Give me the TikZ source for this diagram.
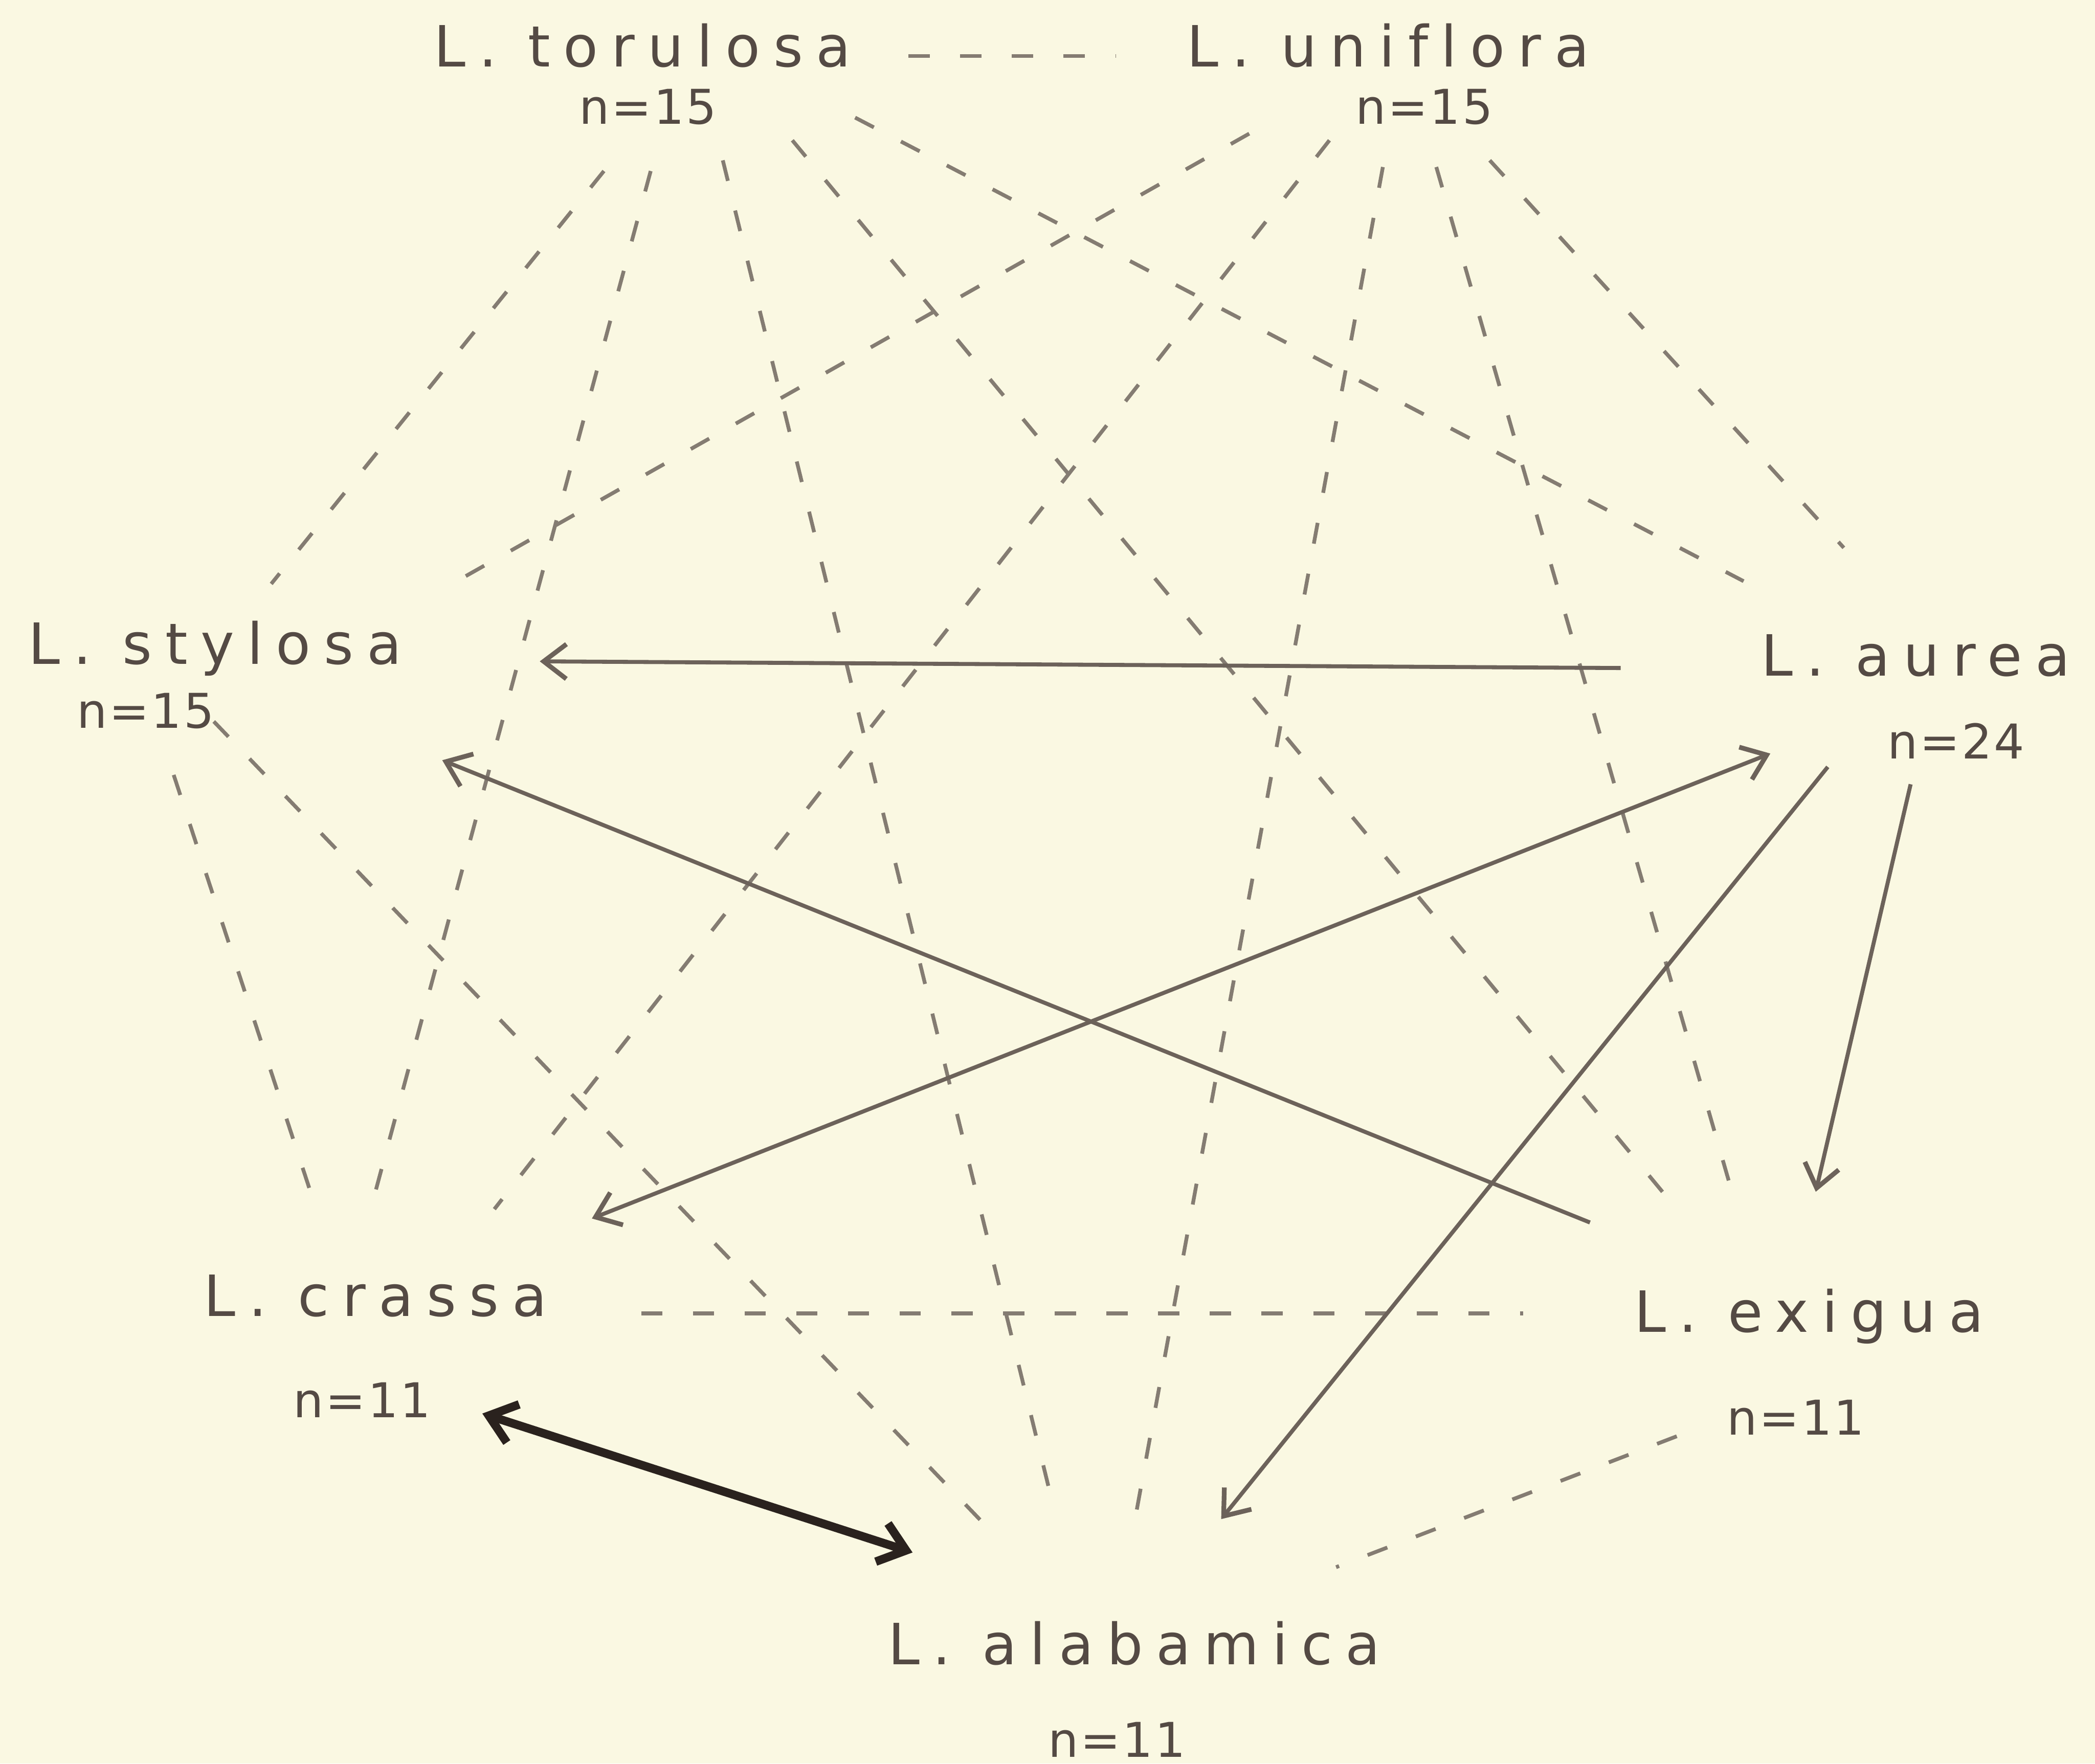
\documentclass[tikz,border=0pt]{standalone}
\usepackage{fontspec}
\usepackage{xcolor}
\usepackage{tikz}
\usetikzlibrary{arrows.meta}
\newfontfamily\namefont[LetterSpace=23, Ligatures=NoCommon]{DejaVu Sans}
\newfontfamily\countfont[LetterSpace=4]{DejaVu Sans}
\definecolor{paper}{RGB}{250,248,226}
\definecolor{ink}{RGB}{84,74,68}
\definecolor{dashink}{RGB}{132,124,114}
\definecolor{arrink}{RGB}{108,98,90}
\definecolor{heavyink}{RGB}{42,34,30}

\begin{document}
\begin{tikzpicture}[
    x=0.01cm, y=-0.01cm,
    species/.style={font=\namefont\fontsize{12.1}{14}\selectfont, text=ink, anchor=base, inner sep=0pt},
    count/.style  ={font=\countfont\fontsize{10.2}{12}\selectfont, text=ink, anchor=base, inner sep=0pt},
    link/.style   ={draw=dashink, line width=0.8pt, dash pattern=on 4.5pt off 6.5pt},
    arr/.style    ={draw=arrink, line width=0.85pt, -{Straight Barb[length=1.7mm, width=2.6mm, line width=1pt]}},
    biarr/.style  ={draw=arrink, line width=0.85pt, {Straight Barb[length=1.7mm, width=2.6mm, line width=1pt]}-{Straight Barb[length=1.7mm, width=2.6mm, line width=1pt]}},
    heavy/.style  ={draw=heavyink, line width=1.8pt, {Straight Barb[length=1.9mm, width=3mm]}-{Straight Barb[length=1.9mm, width=3mm]}}
]
\fill[paper] (0,0) rectangle (1568,1320);
\useasboundingbox (0,0) rectangle (1568,1320);

% Species
\node[species] (tor) at (481,50)   {L. torulosa};
\node[count]   (torn) at (485,93)  {n=15};
\node[species] (uni) at (1039,50)  {L. uniflora};
\node[count]   (unin) at (1066,93) {n=15};
\node[species] (sty) at (161,497)  {L. stylosa};
\node[count]   (styn) at (109,545) {n=15};
\node[species] (aur) at (1434,506) {L. aurea};
\node[count]   (aurn) at (1464,568) {n=24};
\node[species] (cra) at (281,985)  {L. crassa};
\node[count]   (cran) at (271,1061) {n=11};
\node[species] (exi) at (1354,997) {L. exigua};
\node[count]   (exin) at (1344,1074) {n=11};
\node[species] (ala) at (849,1246) {L. alabamica};
\node[count]   (alan) at (836,1315) {n=11};

% Line ends round each species
\coordinate (tor-uni) at (680,42);   \coordinate (uni-tor) at (835,42);
\coordinate (tor-sty) at (452,128);  \coordinate (sty-tor) at (203,437);
\coordinate (tor-cra) at (487,128);  \coordinate (cra-tor) at (278,903);
\coordinate (tor-ala) at (541,120);  \coordinate (ala-tor) at (789,1130);
\coordinate (tor-exi) at (593,105);  \coordinate (exi-tor) at (1255,905);
\coordinate (tor-aur) at (640,88);   \coordinate (aur-tor) at (1305,435);
\coordinate (uni-sty) at (935,100);  \coordinate (sty-uni) at (333,440);
\coordinate (uni-cra) at (995,105);  \coordinate (cra-uni) at (370,905);
\coordinate (uni-ala) at (1035,125); \coordinate (ala-uni) at (849,1140);
\coordinate (uni-exi) at (1075,125); \coordinate (exi-uni) at (1300,905);
\coordinate (uni-aur) at (1115,120); \coordinate (aur-uni) at (1380,410);
\coordinate (sty-cra) at (130,580);  \coordinate (cra-sty) at (235,900);
\coordinate (sty-ala) at (160,540);  \coordinate (ala-sty) at (734,1138);
\coordinate (cra-exi) at (480,983);  \coordinate (exi-cra) at (1140,983);
\coordinate (exi-ala) at (1255,1075); \coordinate (ala-exi) at (1000,1173);

\coordinate (aur-sty) at (1213,500); \coordinate (sty-aur) at (404,495);
\coordinate (exi-sty) at (1190,915); \coordinate (sty-exi) at (331,569);
\coordinate (cra-aur) at (443,912);  \coordinate (aur-cra) at (1325,564);
\coordinate (aur-ala) at (1368,574); \coordinate (ala-aur) at (914,1137);
\coordinate (aur-exi) at (1430,587); \coordinate (exi-aur) at (1359,892);
\coordinate (cra-ala) at (361,1058); \coordinate (ala-cra) at (683,1162);

% Dashed links
\foreach \a/\b in {tor/uni, tor/sty, tor/cra, tor/ala, tor/exi, tor/aur,
                   uni/sty, uni/cra, uni/ala, uni/exi, uni/aur,
                   sty/cra, sty/ala, cra/exi, exi/ala}
    \draw[link] (\a-\b) -- (\b-\a);

% Arrows
\draw[arr]   (aur-sty) -- (sty-aur);
\draw[arr]   (exi-sty) -- (sty-exi);
\draw[biarr] (cra-aur) -- (aur-cra);
\draw[arr]   (aur-ala) -- (ala-aur);
\draw[arr]   (aur-exi) -- (exi-aur);
\draw[heavy] (cra-ala) -- (ala-cra);
\end{tikzpicture}
\end{document}
